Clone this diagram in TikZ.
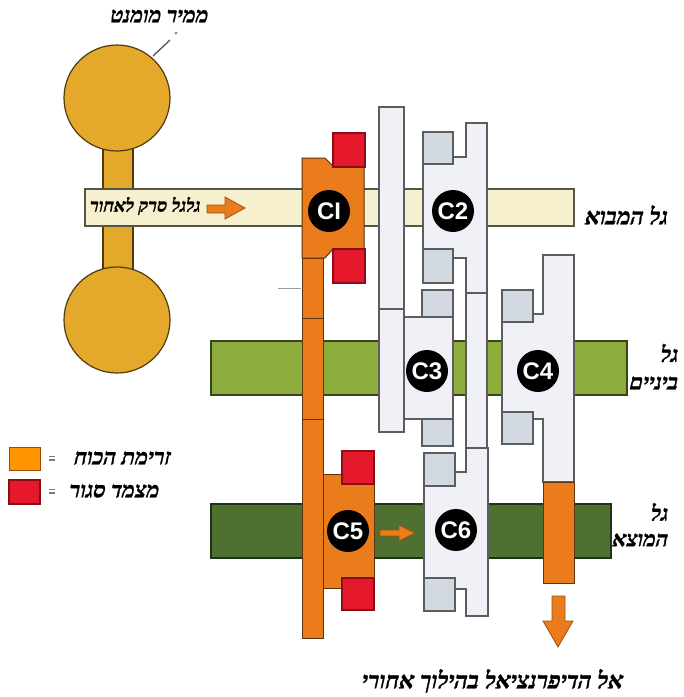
\documentclass[tikz,border=0pt]{standalone}
\usepackage{fontspec}
\setsansfont{Liberation Sans}
\newfontfamily\hefont[Script=Hebrew,UprightFont={* Bold},FakeSlant=0.22,FakeBold=1.2]{Liberation Serif}
\TeXXeTstate=1
\newcommand{\hesize}[1]{\fontsize{#1}{#1}\selectfont\hefont}
\definecolor{outl}{HTML}{5A5E60}
\definecolor{orangeC}{HTML}{EA7C1C}
\definecolor{redC}{HTML}{E6182B}
\definecolor{yellowC}{HTML}{E4A82A}
\definecolor{creamC}{HTML}{F7F0CE}
\definecolor{lgreenC}{HTML}{8CAD3D}
\definecolor{dgreenC}{HTML}{4E7030}
\definecolor{lightC}{HTML}{EFF1F6}
\definecolor{grayC}{HTML}{D3D9E1}
\tikzset{
  lightpart/.style={draw=outl,line width=1.4pt,fill=lightC,line join=miter},
  graypart/.style={draw=outl,line width=1.4pt,fill=grayC},
  orangepart/.style={draw=black!60!orangeC,line width=1pt,fill=orangeC},
  redpart/.style={draw=black!40!redC,line width=1.2pt,fill=redC},
  yellowpart/.style={draw=black!65!yellowC,line width=1.2pt,fill=yellowC},
  shaftcream/.style={draw=black!65!creamC,line width=1.4pt,fill=creamC},
  shaftl/.style={draw=black!60!lgreenC,line width=1.6pt,fill=lgreenC},
  shaftd/.style={draw=black!55!dgreenC,line width=1.6pt,fill=dgreenC},
  arrowpart/.style={draw=black!35!orangeC,line width=.8pt,fill=orangeC},
  clutch/.style={circle,fill=black,text=white,minimum size=42pt,inner sep=0pt,font=\sffamily\bfseries\fontsize{24}{24}\selectfont},
  hlabel/.style={inner sep=0pt,text=black},
}
\begin{document}
\begin{tikzpicture}[x=1pt,y=-1pt]
\useasboundingbox (0,0) rectangle (684,697);
% torque converter
\draw[yellowpart] (103,140) rectangle (133,285);
\draw[yellowpart] (117,98) circle (53);
\draw[yellowpart] (117,320) circle (53);
\draw[outl,line width=1.4pt] (153,56) -- (170,40);
\fill[outl!70] (176,33) circle (1.6);
% shafts
\draw[shaftcream] (85,189) rectangle (574,226);
\draw[shaftl] (211,341) rectangle (627,395);
\draw[shaftd] (211,504) rectangle (611,558);
% orange parts
\draw[orangepart] (302,258) rectangle (323,638);
\draw[black!60!orangeC,line width=1pt] (302,318) -- (323,318) (302,419) -- (323,419);
\draw[orangepart] (302,258) -- (302,158) -- (325,158) -- (332,165) -- (364,165) -- (364,250) -- (332,250) -- (325,258) -- cycle;
\draw[orangepart] (323,474) rectangle (374,588);
\draw[redpart] (333,133) rectangle (365,167);
\draw[redpart] (333,249) rectangle (365,283);
\draw[redpart] (342,451) rectangle (374,484);
\draw[redpart] (342,578) rectangle (374,610);
\draw[outl!60,line width=.7pt] (278,288) -- (301,288);
% gear column 1 and C3
\draw[lightpart] (379,107) rectangle (404,432);
\draw[outl,line width=1.4pt] (379,309) -- (404,309);
\draw[lightpart] (404,317) rectangle (453,419);
\draw[graypart] (422,290) rectangle (453,317);
\draw[graypart] (422,419) rectangle (453,446);
% C2
\draw[lightpart] (423,150) -- (453,150) -- (453,157) -- (466,157) -- (466,123) -- (487,123) -- (487,293) -- (466,293) -- (466,258) -- (453,258) -- (453,265) -- (423,265) -- cycle;
\draw[graypart] (423,132) rectangle (453,164);
\draw[graypart] (423,249) rectangle (453,283);
% column
\draw[lightpart] (466,293) rectangle (487,448);
% C6
\draw[lightpart] (424,465) -- (455,465) -- (455,472) -- (466,472) -- (466,448) -- (488,448) -- (488,616) -- (466,616) -- (466,589) -- (455,589) -- (455,595) -- (424,595) -- cycle;
\draw[graypart] (424,453) rectangle (455,486);
\draw[graypart] (424,578) rectangle (455,611);
% C4
\draw[lightpart] (502,305) -- (533,305) -- (533,314) -- (543,314) -- (543,255) -- (574,255) -- (574,482) -- (543,482) -- (543,419) -- (533,419) -- (533,428) -- (502,428) -- cycle;
\draw[graypart] (502,290) rectangle (533,322);
\draw[graypart] (502,412) rectangle (533,444);
\draw[orangepart] (543,482) rectangle (574,583);
% arrows
\draw[arrowpart] (207,205) -- (225,205) -- (225,197) -- (245,208) -- (225,219) -- (225,213) -- (207,213) -- cycle;
\draw[arrowpart] (380,530) -- (399,530) -- (399,525) -- (415,533) -- (399,541) -- (399,536) -- (380,536) -- cycle;
\draw[arrowpart] (552,596) -- (565,596) -- (565,621) -- (573,621) -- (558,647) -- (543,621) -- (552,621) -- cycle;
% clutches
\node[clutch] (c1) at (329,211) {CI};
\node[clutch] (c2) at (453,211) {C2};
\node[clutch] (c3) at (427,371) {C3};
\node[clutch] (c4) at (538,371) {C4};
\node[clutch] (c5) at (348,531) {C5};
\node[clutch] (c6) at (456,530) {C6};
% legend
\draw[draw=black!40!orange,line width=1pt,fill=orange!85!yellow] (9,447) rectangle (40,470);
\draw[redpart] (9,480) rectangle (40,504);
\draw[outl!80,line width=1.2pt] (49,456.5) -- (55,456.5) (49,460) -- (55,460);
\draw[outl!80,line width=1.2pt] (49,489.5) -- (55,489.5) (49,493) -- (55,493);
% labels
\node[hlabel] (l1) at (158,16) {\hesize{21.5}\beginR ממיר מומנט\endR};
\node[hlabel] (l2) at (144,206) {\hesize{18}\beginR גלגל סרק לאחור\endR};
\node[hlabel] (l3) at (625,215) {\hesize{23}\beginR גל המבוא\endR};
\node[hlabel,anchor=east] (l4) at (677,353) {\hesize{22}\beginR גל\endR};
\node[hlabel,anchor=east] (l5) at (677,383) {\hesize{22}\beginR ביניים\endR};
\node[hlabel,anchor=east] (l6) at (667,512) {\hesize{21.5}\beginR גל\endR};
\node[hlabel,anchor=east] (l7) at (667,540) {\hesize{21.5}\beginR המוצא\endR};
\node[hlabel] (l8) at (121,458) {\hesize{22}\beginR זרימת הכוח\endR};
\node[hlabel] (l9) at (113,491) {\hesize{22}\beginR מצמד סגור\endR};
\node[hlabel] (l10) at (491,681) {\hesize{23.3}\beginR אל הדיפרנציאל בהילוך אחורי\endR};
\end{tikzpicture}
\end{document}
